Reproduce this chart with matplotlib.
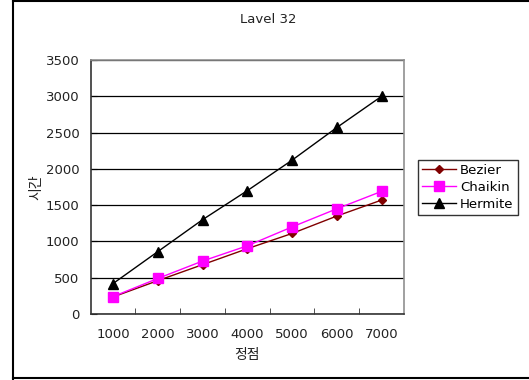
import matplotlib
matplotlib.use('Agg')
import matplotlib.pyplot as plt
from matplotlib.lines import Line2D

plt.rcParams['font.family'] = ['DejaVu Sans', 'Noto Sans CJK KR']

# data
vertices = ['1000', '2000', '3000', '4000', '5000', '6000', '7000']
bezier = [235, 460, 680, 900, 1110, 1350, 1570]
chaikin = [240, 490, 730, 940, 1200, 1450, 1690]
hermite = [420, 860, 1300, 1700, 2120, 2570, 3000]

fig = plt.figure(figsize=(5.29, 3.80), dpi=100)
ax = fig.add_axes([0.1715, 0.1737, 0.5922, 0.6684])

x = range(len(vertices))
ax.plot(x, bezier, color='#800000', marker='D', markersize=4.5, linewidth=1, label='Bezier')
ax.plot(x, chaikin, color='#FF00FF', marker='s', markersize=6.5, linewidth=1, label='Chaikin')
ax.plot(x, hermite, color='black', marker='^', markersize=6.5, linewidth=1, label='Hermite')

ax.set_xlim(-0.5, len(vertices) - 0.5)
ax.set_ylim(0, 3500)
ax.set_yticks(range(0, 3501, 500))
ax.set_xticks(list(x))
ax.set_xticklabels(vertices)
ax.set_xticks([i + 0.5 for i in range(len(vertices) - 1)], minor=True)
ax.tick_params(axis='x', which='major', length=0, pad=10, labelsize=9.5)
ax.tick_params(axis='x', which='minor', direction='in', length=4, color='#333333')
ax.tick_params(axis='y', direction='in', length=4, labelsize=9.5, pad=8)
ax.tick_params(axis='both', labelcolor='#222222')

ax.yaxis.grid(True, color='black', linewidth=0.9)
ax.set_axisbelow(True)

for side in ['top', 'right']:
    ax.spines[side].set_color('#909090')
    ax.spines[side].set_linewidth(1.2)
for side in ['left', 'bottom']:
    ax.spines[side].set_color('#333333')
    ax.spines[side].set_linewidth(1.2)

ax.set_xlabel('정점', fontsize=10, labelpad=5, color='#222222')
ax.set_ylabel('시간', fontsize=10, labelpad=2, color='#222222')
fig.text(0.507, 0.948, 'Lavel 32', ha='center', va='center', fontsize=9.5, color='#222222')

leg = ax.legend(loc='center left', bbox_to_anchor=(0.79, 0.5066), bbox_transform=fig.transFigure,
                frameon=True, fancybox=False, edgecolor='black', fontsize=9.5,
                borderpad=0.3, labelspacing=0.3, handlelength=2.6, handletextpad=0.3,
                borderaxespad=0)
leg.get_frame().set_linewidth(1)

# outer chart frame (right edge is cut off in the reference)
fx = 12.5 / 529
fig.add_artist(Line2D([fx, fx], [0.5 / 380, 1 - 0.5 / 380], transform=fig.transFigure, color='black', linewidth=1.5))
fig.add_artist(Line2D([fx, 1], [1 - 1 / 380, 1 - 1 / 380], transform=fig.transFigure, color='black', linewidth=1.5))
fig.add_artist(Line2D([fx, 1], [2 / 380, 2 / 380], transform=fig.transFigure, color='black', linewidth=1.5))

fig.savefig('out.png', dpi=100)
